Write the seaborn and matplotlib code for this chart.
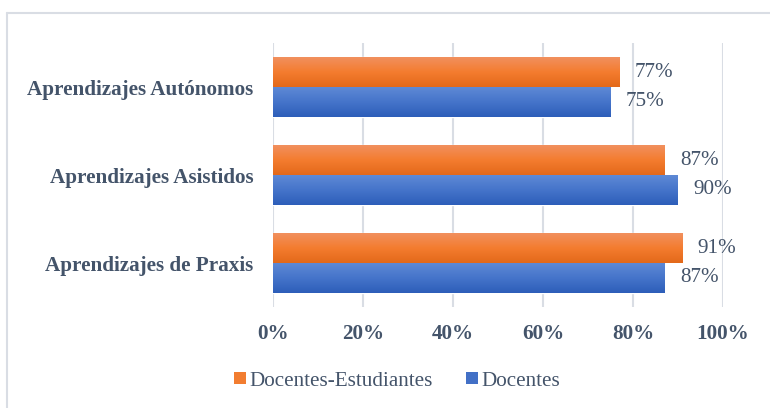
import matplotlib
matplotlib.use("Agg")
import matplotlib.pyplot as plt
import seaborn as sns
import pandas as pd
import numpy as np
from matplotlib.patches import Patch
from matplotlib.lines import Line2D
from matplotlib.colors import LinearSegmentedColormap

categorias = ["Aprendizajes Autónomos", "Aprendizajes Asistidos", "Aprendizajes de Praxis"]
series = ["Docentes-Estudiantes", "Docentes"]
docentes_estudiantes = [77, 87, 91]
docentes = [75, 90, 87]
xticks = [0, 20, 40, 60, 80, 100]
xtick_labels = ["0%", "20%", "40%", "60%", "80%", "100%"]

colores = {"Docentes-Estudiantes": "#F27D30", "Docentes": "#4270C6"}
gradientes = {
    "Docentes-Estudiantes": ["#F1905E", "#F47C2F", "#E3691A"],
    "Docentes": ["#5E89D5", "#4574CA", "#2D5EB9"],
}
text_color = "#44546A"
grid_color = "#D9DDE4"
FS = 15.2

df = pd.DataFrame({
    "categoria": categorias * 2,
    "serie": [series[0]] * 3 + [series[1]] * 3,
    "valor": docentes_estudiantes + docentes,
})

sns.set_theme(style="white")
plt.rcParams["font.family"] = ["Liberation Serif", "DejaVu Serif"]

fig = plt.figure(figsize=(7.7, 4.08), dpi=100)
ax = fig.add_axes([273/770, 1 - 307/408, 450/770, 264/408])

sns.barplot(data=df, x="valor", y="categoria", hue="serie", order=categorias,
            hue_order=series, palette=colores, orient="h", width=0.68,
            saturation=1, ax=ax, legend=False, errorbar=None)

# vertical gradient fill over each bar (Excel-like)
grad = np.linspace(0, 1, 64).reshape(-1, 1)
for cont, s in zip(ax.containers, series):
    cmap = LinearSegmentedColormap.from_list(s, gradientes[s])
    for p in cont.patches:
        x0, y0 = p.get_x(), p.get_y()
        w, h = p.get_width(), p.get_height()
        im = ax.imshow(grad, cmap=cmap, aspect="auto", origin="upper",
                       extent=(x0, x0 + w, y0 + h, y0), zorder=p.get_zorder() + 0.1,
                       interpolation="bilinear")
        im.set_clip_path(p)

ax.set_xlim(0, 100)
ax.set_ylim(2.5, -0.5)
ax.set_xticks(xticks)
ax.set_xticklabels(xtick_labels)
ax.set_xlabel("")
ax.set_ylabel("")
for sp in ax.spines.values():
    sp.set_visible(False)
ax.grid(axis="x", color=grid_color, linewidth=1.5)
ax.grid(axis="y", visible=False)
ax.set_axisbelow(True)
ax.tick_params(axis="x", length=0, pad=12, labelsize=FS, labelcolor=text_color)
ax.tick_params(axis="y", length=0, pad=14, labelsize=FS, labelcolor=text_color)
for lbl in ax.get_xticklabels() + ax.get_yticklabels():
    lbl.set_fontweight("bold")

for cont in ax.containers:
    ax.bar_label(cont, labels=[f"{v:.0f}%" for v in cont.datavalues], padding=11,
                 fontsize=FS, color=text_color)

handles = [Patch(facecolor=colores[s], edgecolor="none") for s in series]
fig.legend(handles, series, loc="center", bbox_to_anchor=(397/770, 1 - 381/408),
           ncol=2, frameon=False, fontsize=FS, labelcolor=text_color,
           handlelength=0.55, handleheight=0.55, handletextpad=0.15, columnspacing=1.6)

# chart-area border
fig.add_artist(Line2D([7/770, 1], [1 - 13/408, 1 - 13/408], color=grid_color, linewidth=1.5))
fig.add_artist(Line2D([7/770, 7/770], [0, 1 - 13/408], color=grid_color, linewidth=1.5))

fig.savefig("out.png", dpi=100, facecolor="white")
